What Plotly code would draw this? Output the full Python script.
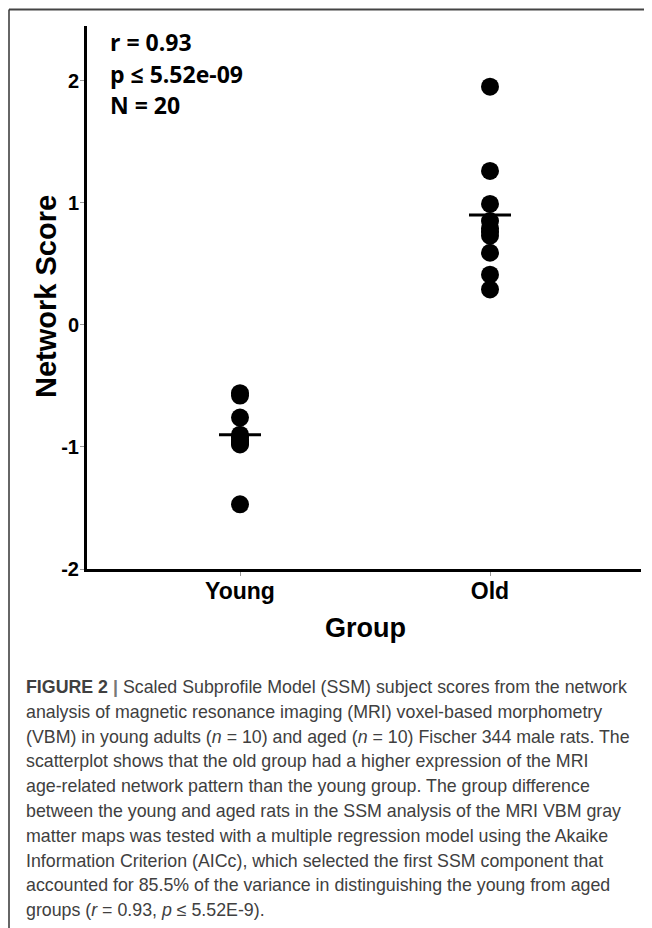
import plotly.graph_objects as go

# ---- data ----
groups = ["Young", "Old"]
young_scores = [-0.56, -0.58, -0.76, -0.90, -0.92, -0.94, -0.96, -0.97, -0.98, -1.47]
old_scores = [1.95, 1.26, 0.99, 0.85, 0.79, 0.76, 0.73, 0.59, 0.41, 0.29]
group_means = [-0.90, 0.90]
y_ticks = [-2, -1, 0, 1, 2]
stats_lines = ["r = 0.93", "p \u2264 5.52e-09", "N = 20"]
caption_lines = [
    "<b>FIGURE 2 </b><b style='color:#777'>|</b> Scaled Subprofile Model (SSM) subject scores from the network",
    "analysis of magnetic resonance imaging (MRI) voxel-based morphometry",
    "(VBM) in young adults (<i>n</i> = 10) and aged (<i>n</i> = 10) Fischer 344 male rats. The",
    "scatterplot shows that the old group had a higher expression of the MRI",
    "age-related network pattern than the young group. The group difference",
    "between the young and aged rats in the SSM analysis of the MRI VBM gray",
    "matter maps was tested with a multiple regression model using the Akaike",
    "Information Criterion (AICc), which selected the first SSM component that",
    "accounted for 85.5% of the variance in distinguishing the young from aged",
    "groups (<i>r</i> = 0.93, <i>p</i> \u2264 5.52E-9).",
]

# page has an 8px body margin; figure sized to fill the rest of the window
OFF = 8
W, H = 652 - OFF, 928 - OFF
# plot area in page pixels: x 87..641, y 26..569
L, R, T, B = 87 - OFF, 652 - 641, 26 - OFF, 928 - 569
PW, PH = W - L - R, H - T - B


def px(x):  # page x -> paper
    return (x - OFF - L) / PW


def py(y):  # page y -> paper
    return (H - B - (y - OFF)) / PH


fig = go.Figure()
fig.add_trace(go.Scatter(
    x=[groups[0]] * len(young_scores), y=young_scores, mode="markers",
    marker=dict(size=18, color="black"), showlegend=False, hoverinfo="y"))
fig.add_trace(go.Scatter(
    x=[groups[1]] * len(old_scores), y=old_scores, mode="markers",
    marker=dict(size=18, color="black"), showlegend=False, hoverinfo="y"))
fig.add_trace(go.Scatter(
    x=groups, y=group_means, mode="markers",
    marker=dict(symbol="line-ew", size=30, color="black",
                line=dict(width=3, color="black")),
    showlegend=False, hoverinfo="y"))

fig.update_xaxes(
    type="category", categoryorder="array", categoryarray=groups,
    range=[-0.612, 1.604], showline=True, linewidth=3, linecolor="black",
    ticks="outside", ticklen=4, tickwidth=1, tickcolor="#999", ticklabelstandoff=-5,
    tickfont=dict(family="Liberation Sans, Arial, sans-serif", size=23, color="black", weight="bold"),
    showgrid=False, zeroline=False, fixedrange=True)
fig.update_yaxes(
    range=[-2, 2.447], tickvals=y_ticks, ticktext=[str(v) for v in y_ticks],
    showline=True, linewidth=3, linecolor="black",
    ticks="outside", ticklen=4, tickwidth=1, tickcolor="#999", ticklabelstandoff=-3,
    tickfont=dict(family="Liberation Sans, Arial, sans-serif", size=20, color="black", weight="bold"),
    showgrid=False, zeroline=False, fixedrange=True)

ann = []
ann.append(dict(x=px(46), y=py(297), xref="paper", yref="paper", text="<b>Network Score</b>",
                textangle=-90, showarrow=False, xanchor="center", yanchor="middle",
                font=dict(family="Liberation Sans, Arial, sans-serif", size=29, color="black")))
ann.append(dict(x=px(365), y=py(628), xref="paper", yref="paper", text="<b>Group</b>",
                showarrow=False, xanchor="center", yanchor="middle",
                font=dict(family="Liberation Sans, Arial, sans-serif", size=27, color="black")))
for i, s in enumerate(stats_lines):
    ann.append(dict(x=px(108), y=py(42 + 31.5 * i), xref="paper", yref="paper", text="<b>" + s + "</b>",
                    showarrow=False, xanchor="left", yanchor="middle",
                    font=dict(family="Open Sans, sans-serif", size=23, color="black")))
for i, s in enumerate(caption_lines):
    ann.append(dict(x=px(24), y=py(687 + 24.8 * i), xref="paper", yref="paper", text=s,
                    showarrow=False, xanchor="left", yanchor="middle",
                    font=dict(family="Liberation Sans, Arial, sans-serif", size=17.8, color="#404040")))

shapes = [
    dict(type="line", xref="paper", yref="paper", x0=px(9), x1=px(660), y0=py(9.5), y1=py(9.5),
         line=dict(color="#444", width=2)),
    dict(type="line", xref="paper", yref="paper", x0=px(9), x1=px(9), y0=py(9.5), y1=py(940),
         line=dict(color="#333", width=1.5)),
]

fig.update_layout(
    width=W, height=H, autosize=False,
    margin=dict(l=L, r=R, t=T, b=B, pad=0),
    paper_bgcolor="white", plot_bgcolor="white",
    annotations=ann, shapes=shapes, showlegend=False)

fig.write_html("out.html", config={"displayModeBar": False})
